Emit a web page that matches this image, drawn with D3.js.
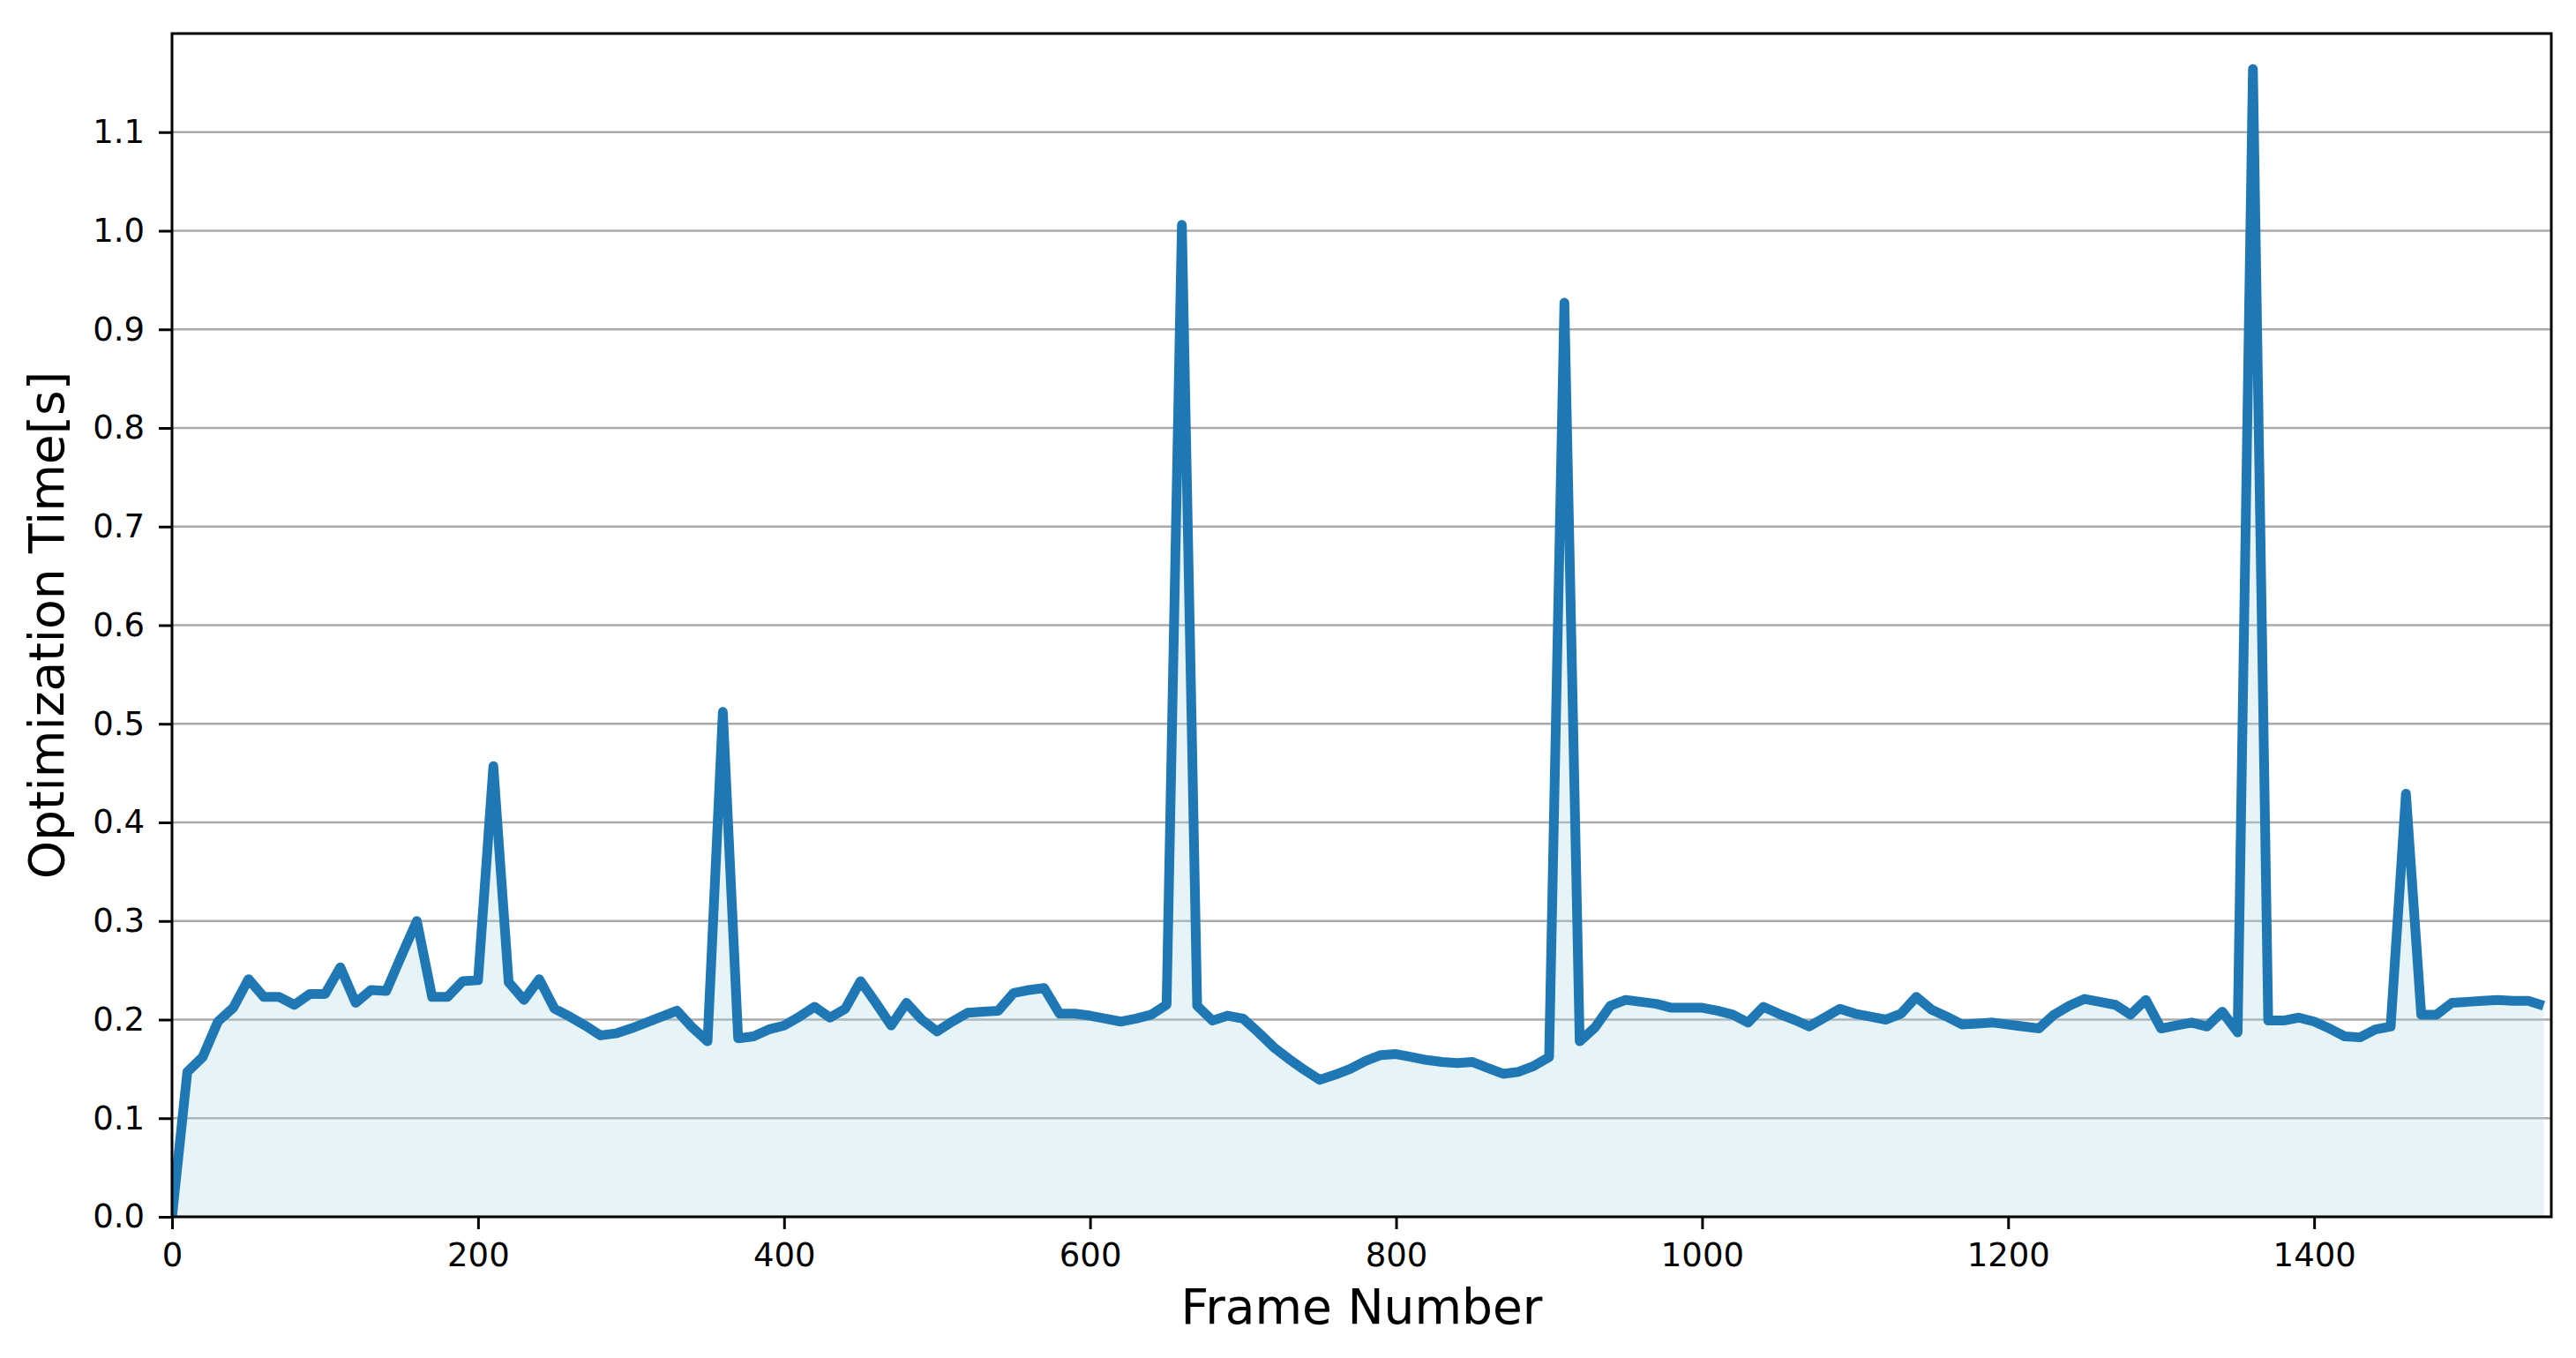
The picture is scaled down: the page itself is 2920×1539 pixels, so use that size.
<!DOCTYPE html>
<html>
<head>
<meta charset="utf-8">
<script src="https://cdn.jsdelivr.net/npm/d3@7/dist/d3.min.js"></script>
<style>
  html, body { margin: 0; padding: 0; background: #ffffff; }
  svg { display: block; }
  text { font-family: "DejaVu Sans", sans-serif; fill: #000; }
</style>
</head>
<body>
<svg id="chart" width="2920" height="1539"></svg>
<script>
// ---- data ----
const frames = [
  0, 10, 20, 30, 40, 50, 60, 70, 80, 90,
  100, 110, 120, 130, 140, 150, 160, 170, 180, 190,
  200, 210, 220, 230, 240, 250, 260, 270, 280, 290,
  300, 310, 320, 330, 340, 350, 360, 370, 380, 390,
  400, 410, 420, 430, 440, 450, 460, 470, 480, 490,
  500, 510, 520, 530, 540, 550, 560, 570, 580, 590,
  600, 610, 620, 630, 640, 650, 660, 670, 680, 690,
  700, 710, 720, 730, 740, 750, 760, 770, 780, 790,
  800, 810, 820, 830, 840, 850, 860, 870, 880, 890,
  900, 910, 920, 930, 940, 950, 960, 970, 980, 990,
  1000, 1010, 1020, 1030, 1040, 1050, 1060, 1070, 1080, 1090,
  1100, 1110, 1120, 1130, 1140, 1150, 1160, 1170, 1180, 1190,
  1200, 1210, 1220, 1230, 1240, 1250, 1260, 1270, 1280, 1290,
  1300, 1310, 1320, 1330, 1340, 1350, 1360, 1370, 1380, 1390,
  1400, 1410, 1420, 1430, 1440, 1450, 1460, 1470, 1480, 1490,
  1500, 1510, 1520, 1530, 1540, 1550
];
const optTimes = [
  0.000, 0.147, 0.162, 0.198, 0.212, 0.241, 0.223, 0.223, 0.215, 0.226,
  0.226, 0.253, 0.217, 0.230, 0.229, 0.265, 0.300, 0.223, 0.223, 0.239,
  0.240, 0.457, 0.238, 0.220, 0.241, 0.211, 0.203, 0.194, 0.184, 0.186,
  0.191, 0.197, 0.203, 0.209, 0.192, 0.178, 0.512, 0.181, 0.183, 0.190,
  0.194, 0.203, 0.213, 0.202, 0.211, 0.239, 0.217, 0.194, 0.217, 0.200,
  0.188, 0.198, 0.207, 0.208, 0.209, 0.227, 0.230, 0.232, 0.206, 0.206,
  0.204, 0.201, 0.198, 0.201, 0.205, 0.215, 1.006, 0.214, 0.199, 0.204,
  0.201, 0.187, 0.172, 0.160, 0.149, 0.139, 0.144, 0.150, 0.158, 0.164,
  0.165, 0.162, 0.159, 0.157, 0.156, 0.157, 0.151, 0.145, 0.147, 0.153,
  0.162, 0.927, 0.178, 0.192, 0.214, 0.220, 0.218, 0.216, 0.212, 0.212,
  0.212, 0.209, 0.205, 0.197, 0.213, 0.206, 0.200, 0.193, 0.202, 0.211,
  0.206, 0.203, 0.200, 0.206, 0.223, 0.210, 0.203, 0.195, 0.196, 0.197,
  0.195, 0.193, 0.191, 0.205, 0.214, 0.221, 0.218, 0.215, 0.205, 0.220,
  0.191, 0.194, 0.197, 0.193, 0.208, 0.187, 1.164, 0.199, 0.199, 0.202,
  0.198, 0.191, 0.183, 0.182, 0.190, 0.193, 0.429, 0.205, 0.205, 0.217,
  0.218, 0.219, 0.220, 0.219, 0.219, 0.214
];
const xTicks = [0, 200, 400, 600, 800, 1000, 1200, 1400];
const yTicks = [0.0, 0.1, 0.2, 0.3, 0.4, 0.5, 0.6, 0.7, 0.8, 0.9, 1.0, 1.1];
const xDomain = [0, 1555];
const yDomain = [0, 1.2];
const xLabel = "Frame Number";
const yLabel = "Optimization Time[s]";

// ---- layout ----
const W = 2920, H = 1539;
const margin = { left: 195, top: 38, right: 2920 - 2892, bottom: 1539 - 1379 };
const pw = W - margin.left - margin.right;
const ph = H - margin.top - margin.bottom;

const svg = d3.select("#chart");
const g = svg.append("g").attr("transform", `translate(${margin.left},${margin.top})`);

const x = d3.scaleLinear().domain(xDomain).range([0, pw]);
const y = d3.scaleLinear().domain(yDomain).range([ph, 0]);

const data = frames.map((f, i) => ({ f, v: optTimes[i] }));

svg.append("defs").append("clipPath").attr("id", "clip")
  .append("rect").attr("x", 0).attr("y", 0).attr("width", pw).attr("height", ph);

// grid (horizontal only)
g.append("g").selectAll("line").data(yTicks).join("line")
  .attr("x1", 0).attr("x2", pw)
  .attr("y1", d => y(d)).attr("y2", d => y(d))
  .attr("stroke", "#aaaaaa").attr("stroke-width", 2.6);

const plot = g.append("g").attr("clip-path", "url(#clip)");

// area fill
plot.append("path").datum(data)
  .attr("d", d3.area().x(d => x(d.f)).y0(y(0)).y1(d => y(d.v)))
  .attr("fill", "lightblue").attr("fill-opacity", 0.3);

// line
plot.append("path").datum(data)
  .attr("d", d3.line().x(d => x(d.f)).y(d => y(d.v)))
  .attr("fill", "none").attr("stroke", "#1f77b4")
  .attr("stroke-width", 11).attr("stroke-linejoin", "round").attr("stroke-linecap", "butt");

// axes
const fontSize = 37;
const yAxis = g.append("g")
  .call(d3.axisLeft(y).tickValues(yTicks).tickFormat(d3.format(".1f")).tickSize(15).tickPadding(16));
const xAxis = g.append("g").attr("transform", `translate(0,${ph})`)
  .call(d3.axisBottom(x).tickValues(xTicks).tickFormat(d3.format("d")).tickSize(14).tickPadding(16));
[yAxis, xAxis].forEach(a => {
  a.select(".domain").remove();
  a.selectAll(".tick line").attr("stroke", "#000").attr("stroke-width", 3);
  a.selectAll(".tick text").attr("font-size", fontSize)
    .attr("font-family", "DejaVu Sans, sans-serif").attr("fill", "#000");
});

// spines
g.append("rect").attr("x", 0).attr("y", 0).attr("width", pw).attr("height", ph)
  .attr("fill", "none").attr("stroke", "#000").attr("stroke-width", 3);

// axis labels
svg.append("text")
  .attr("x", margin.left + pw / 2).attr("y", 1500)
  .attr("text-anchor", "middle").attr("font-size", 55)
  .text(xLabel);
svg.append("text")
  .attr("transform", `translate(72,${margin.top + ph / 2}) rotate(-90)`)
  .attr("text-anchor", "middle").attr("font-size", 55)
  .text(yLabel);
</script>
</body>
</html>
